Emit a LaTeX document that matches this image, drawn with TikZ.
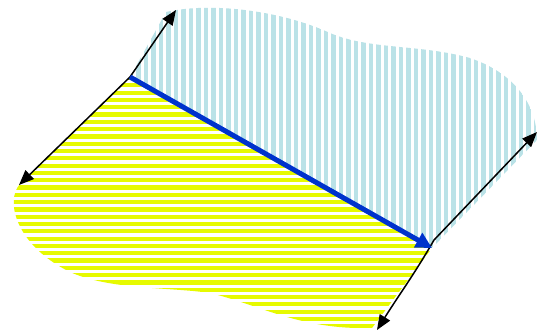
\documentclass[tikz,border=0pt]{standalone}
\usetikzlibrary{arrows.meta}
\definecolor{stripeblue}{RGB}{186,226,231}
\definecolor{stripeyellow}{RGB}{230,250,0}
\definecolor{cutblue}{RGB}{0,51,204}
\tikzset{
  axis/.style={line width=1.5pt, -{Triangle[length=15pt,width=12pt]}},
  cut/.style={line width=5pt, cutblue, -{Triangle[length=16pt,width=16pt]}}
}
\begin{document}
\begin{tikzpicture}[x=1pt, y=-1pt]
                    \useasboundingbox (0,0) rectangle (537,332);
                    \coordinate (O) at (130,77);
                    \coordinate (P) at (432,248);
                    \coordinate (Pbend) at (434,240);
                    % upper part, vertical stripes
                    \begin{scope}
                        \clip (O) -- (166,12) .. controls (210,2) and (280,10) .. (330,33)
                              .. controls (370,50) and (420,44) .. (470,58)
                              .. controls (520,75) and (537,110) .. (537,140) -- (P) -- cycle;
                        \foreach \x in {131,138.5,...,540}
                            \draw[stripeblue, line width=4.3pt] (\x,0) -- (\x,332);
                    \end{scope}
                    % lower part, horizontal stripes
                    \begin{scope}
                        \clip (O) -- (20,184) .. controls (5,200) and (15,245) .. (70,272)
                              .. controls (110,290) and (170,287) .. (210,293)
                              .. controls (260,305) and (300,330) .. (372,328) -- (P) -- cycle;
                        \foreach \y in {78,85.3,...,335}
                            \draw[stripeyellow, line width=4.2pt] (0,\y) -- (537,\y);
                    \end{scope}
                    \coordinate (a1) at (176,10);
                    \coordinate (a2) at (19,185);
                    \coordinate (b1) at (537,132);
                    \coordinate (b2) at (377,330);
                    \draw[axis] (O) -- (a1);
                    \draw[axis] (O) -- (a2);
                    \draw[axis] (Pbend) -- (b1);
                    \draw[axis] (Pbend) to[out=240, in=58] (b2);
                    \draw[cut] (O) -- (P);
                \end{tikzpicture}
\end{document}
